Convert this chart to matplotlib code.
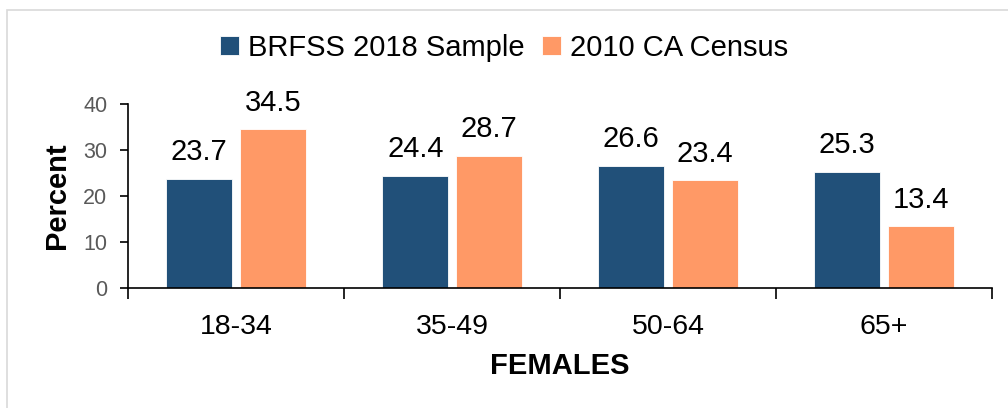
import matplotlib.pyplot as plt
import numpy as np
from matplotlib.patches import Rectangle

plt.rcParams['font.family'] = ['Liberation Sans', 'DejaVu Sans']

# ---------------------------------------------------------------------------
# Data
# ---------------------------------------------------------------------------
age_groups = ["18-34", "35-49", "50-64", "65+"]
brfss_2018 = [23.7, 24.4, 26.6, 25.3]
census_2010 = [34.5, 28.7, 23.4, 13.4]
series_names = ["BRFSS 2018 Sample", "2010 CA Census"]
y_ticks = [0, 10, 20, 30, 40]

BLUE = "#215079"
ORANGE = "#FF9966"

fig = plt.figure(figsize=(10.08, 4.08), dpi=100)
# light outer frame (partially cropped in the reference)
fig.patches.append(Rectangle((7 / 1008, -0.1), 1.2, 1 - 10 / 408 + 0.1,
                             transform=fig.transFigure, fill=False,
                             edgecolor="#d9d9d9", linewidth=1.2))

ax = fig.add_axes([128 / 1008, 1 - 288 / 408, (992 - 128) / 1008, (288 - 104) / 408])

x = np.arange(len(age_groups))
width = 0.305
offset = 0.17
b1 = ax.bar(x - offset, brfss_2018, width, color=BLUE, edgecolor="white", linewidth=0.6,
            label=series_names[0])
b2 = ax.bar(x + offset, census_2010, width, color=ORANGE, edgecolor="white", linewidth=0.6,
            label=series_names[1])
ax.bar_label(b1, fmt="%.1f", padding=9, fontsize=21)
ax.bar_label(b2, fmt="%.1f", padding=9, fontsize=21)

ax.set_xlim(-0.5, len(age_groups) - 0.5)
ax.set_ylim(0, 40)
ax.set_yticks(y_ticks)
ax.tick_params(axis="y", labelsize=15.5, labelcolor="#595959", length=6, width=1.2, pad=9)
ax.set_xticks(x)
ax.set_xticklabels(age_groups, fontsize=20.5)
ax.set_xticks(np.arange(-0.5, len(age_groups)), minor=True)
ax.tick_params(axis="x", which="major", length=0, pad=19)
ax.tick_params(axis="x", which="minor", length=8, width=1.2)

for s in ["top", "right"]:
    ax.spines[s].set_visible(False)
for s in ["left", "bottom"]:
    ax.spines[s].set_linewidth(1.2)

ax.set_ylabel("Percent", fontsize=21, fontweight="bold", labelpad=9)
ax.set_xlabel("FEMALES", fontsize=21, fontweight="bold", labelpad=8)

fig.legend(handles=[b1, b2], loc="center", bbox_to_anchor=(0.5, 1 - 48 / 408), ncol=2,
           frameon=False, fontsize=21, handlelength=0.65, handleheight=0.65,
           handletextpad=0.3, columnspacing=0.6)

plt.savefig("out.png", dpi=100)
